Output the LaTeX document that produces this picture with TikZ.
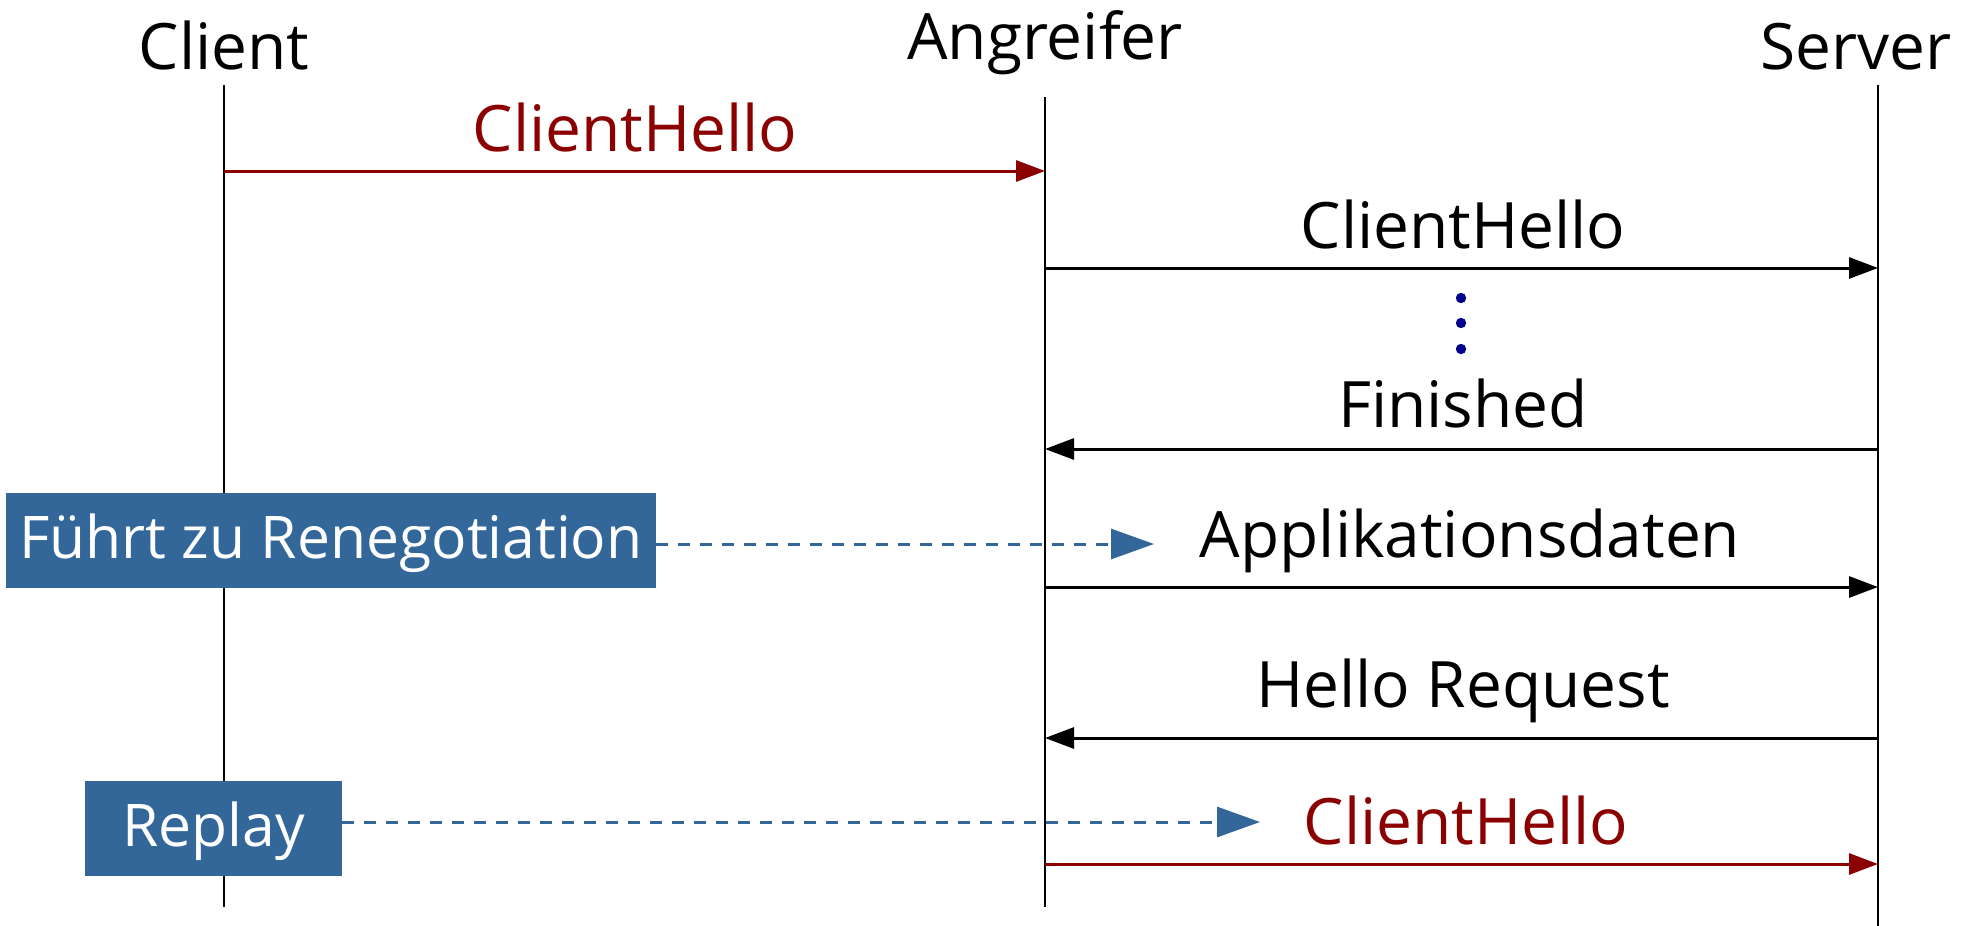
\documentclass[tikz,border=0pt]{standalone}
\usepackage{fontspec}
\setmainfont{Open Sans}
\usetikzlibrary{arrows.meta}
\definecolor{msgred}{RGB}{139,0,0}
\definecolor{notebox}{RGB}{51,102,153}
\definecolor{dotblue}{RGB}{0,0,139}
\begin{document}
\begin{tikzpicture}[x=0.5pt,y=-0.5pt,
  every node/.style={font=\fontsize{32}{38}\selectfont, inner sep=0pt},
  lifeline/.style={draw=black, line width=1.2pt},
  msg/.style={line width=1.5pt, -{Triangle[length=14.5pt,width=10.5pt]}},
  attack/.style={msg, draw=msgred, color=msgred},
  label/.style={anchor=base},
  note/.style={fill=notebox, text=white, minimum height=47.5pt,
    font=\fontsize{29.4}{35}\selectfont, text height=21pt, text depth=3pt},
  hint/.style={draw=notebox, line width=1.5pt, dash pattern=on 6pt off 5pt,
    -{Triangle[length=21.5pt,width=15pt,fill=notebox]}}]
\useasboundingbox (0,0) rectangle (1970,926);

% participants
\node[label] (client) at (224,69) {Client};
\node[label] (attacker) at (1045,59) {Angreifer};
\node[label] (server) at (1856,69) {Server};

% lifelines
\coordinate (ctop) at (224,85);  \coordinate (cbot) at (224,907);
\coordinate (atop) at (1045,97); \coordinate (abot) at (1045,907);
\coordinate (stop) at (1878,85); \coordinate (sbot) at (1878,926);
\draw[lifeline] (ctop) -- (cbot);
\draw[lifeline] (atop) -- (abot);
\draw[lifeline] (stop) -- (sbot);

% message anchors on the lifelines
\foreach \n/\y in {1/171,2/268,3/449,4/587,5/738,6/864}{
  \coordinate (c\n) at (224,\y);
  \coordinate (a\n) at (1045,\y);
  \coordinate (s\n) at (1878,\y);
}

% messages
\draw[attack] (c1) -- (a1);
\node[label, text=msgred] (m1) at (635,151) {ClientHello};

\draw[msg] (a2) -- (s2);
\node[label] (m2) at (1463,248) {ClientHello};

\foreach \i/\y in {1/298,2/323,3/349}
  \fill[dotblue] (1461,\y) circle (2.6pt);

\draw[msg] (s3) -- (a3);
\node[label] (m3) at (1463,427) {Finished};

\draw[msg] (a4) -- (s4);
\node[label] (m4) at (1470,557) {Applikationsdaten};

\draw[msg] (s5) -- (a5);
\node[label] (m5) at (1463,707) {Hello Request};

\draw[attack] (a6) -- (s6);
\node[label, text=msgred] (m6) at (1466,844) {ClientHello};

% annotations
\node[note, minimum width=325pt] (reneg) at (331,540.5) {Führt zu Renegotiation};
\coordinate (renegtip) at (1154,544);
\draw[hint] (reneg.east |- renegtip) -- (renegtip);

\node[note, minimum width=128.5pt] (replay) at (213.5,828) {Replay};
\coordinate (replaytip) at (1260,822);
\draw[hint] (replay.east |- replaytip) -- (replaytip);
\end{tikzpicture}
\end{document}
